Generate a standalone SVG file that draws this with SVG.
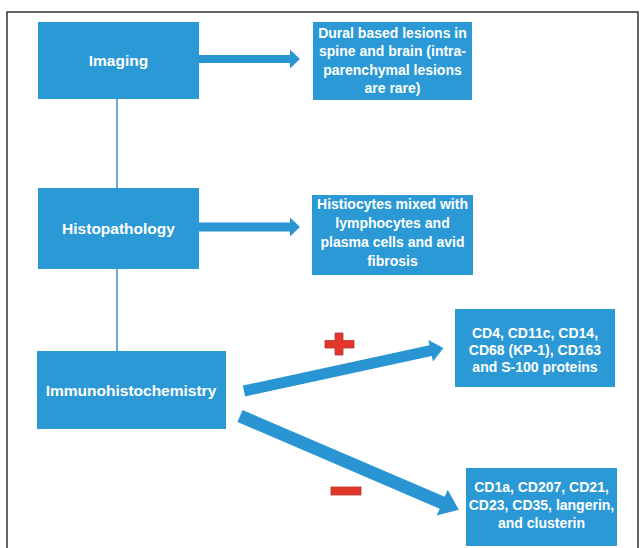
<svg xmlns="http://www.w3.org/2000/svg" width="640" height="548" viewBox="0 0 640 548">
<style>
.box{fill:#2a99d5}
.hd{font-family:"Liberation Sans",Arial,sans-serif;font-weight:bold;font-size:15.5px;fill:#ffffff;text-anchor:middle}
.tx{font-family:"Liberation Sans",Arial,sans-serif;font-weight:bold;font-size:14px;fill:#ffffff;text-anchor:middle}
.arrow{fill:#2a95d3}
.vline{stroke:#6aa9d9;stroke-width:2;fill:none}
.sign{fill:#e2362b;stroke:#b8322c;stroke-width:0.8}
</style>
<rect x="0" y="0" width="640" height="548" fill="#ffffff"/>
<path d="M7,548 V12 H638 V548" fill="none" stroke="#333333" stroke-width="1.5"/>

<g id="connectors">
  <line class="vline" x1="117" y1="99" x2="117" y2="188"/>
  <line class="vline" x1="117" y1="269" x2="117" y2="351"/>
  <polygon class="arrow" points="199,55 290,55 290,49.5 300,59 290,68.5 290,63 199,63"/>
  <polygon class="arrow" points="199,222.5 290,222.5 290,217.5 300,227 290,236.5 290,231.5 199,231.5"/>
  <polygon class="arrow" transform="translate(244,391) rotate(-12.2)" points="0,-5.5 191,-5.5 191,-11 204,0 191,11 191,5.5 0,5.5"/>
  <polygon class="arrow" transform="translate(240,416) rotate(23.2)" points="0,-6.5 220,-6.5 220,-14 238,0 220,14 220,6.5 0,6.5"/>
  <polygon class="sign" points="335,333 343,333 343,340.5 354,340.5 354,348 343,348 343,355 335,355 335,348 325,348 325,340.5 335,340.5"/>
  <rect class="sign" x="331" y="487" width="30" height="8"/>
</g>

<g id="imaging">
  <rect class="box" x="38" y="22" width="161" height="77"/>
  <text class="hd" x="118.5" y="66">Imaging</text>
</g>
<g id="histopathology">
  <rect class="box" x="38" y="188" width="161" height="81"/>
  <text class="hd" x="118.5" y="234">Histopathology</text>
</g>
<g id="immunohistochemistry">
  <rect class="box" x="37" y="351" width="189" height="78"/>
  <text class="hd" x="131" y="396">Immunohistochemistry</text>
</g>
<g id="imaging-result">
  <rect class="box" x="313" y="22" width="159" height="78"/>
  <text class="tx" x="392.5" y="37.5">Dural based lesions in</text>
  <text class="tx" x="392.5" y="56">spine and brain (intra-</text>
  <text class="tx" x="392.5" y="74.5">parenchymal lesions</text>
  <text class="tx" x="392.5" y="93">are rare)</text>
</g>
<g id="histopathology-result">
  <rect class="box" x="312" y="195" width="161" height="80"/>
  <text class="tx" x="392.5" y="208.5">Histiocytes mixed with</text>
  <text class="tx" x="392.5" y="228">lymphocytes and</text>
  <text class="tx" x="392.5" y="247">plasma cells and avid</text>
  <text class="tx" x="392.5" y="266">fibrosis</text>
</g>
<g id="positive">
  <rect class="box" x="455" y="309" width="160" height="78"/>
  <text class="tx" x="535" y="338">CD4, CD11c, CD14,</text>
  <text class="tx" x="535" y="355">CD68 (KP-1), CD163</text>
  <text class="tx" x="535" y="372">and S-100 proteins</text>
</g>
<g id="negative">
  <rect class="box" x="466" y="468" width="151" height="78"/>
  <text class="tx" x="541.5" y="492">CD1a, CD207, CD21,</text>
  <text class="tx" x="541.5" y="510">CD23, CD35, langerin,</text>
  <text class="tx" x="541.5" y="528">and clusterin</text>
</g>
</svg>
